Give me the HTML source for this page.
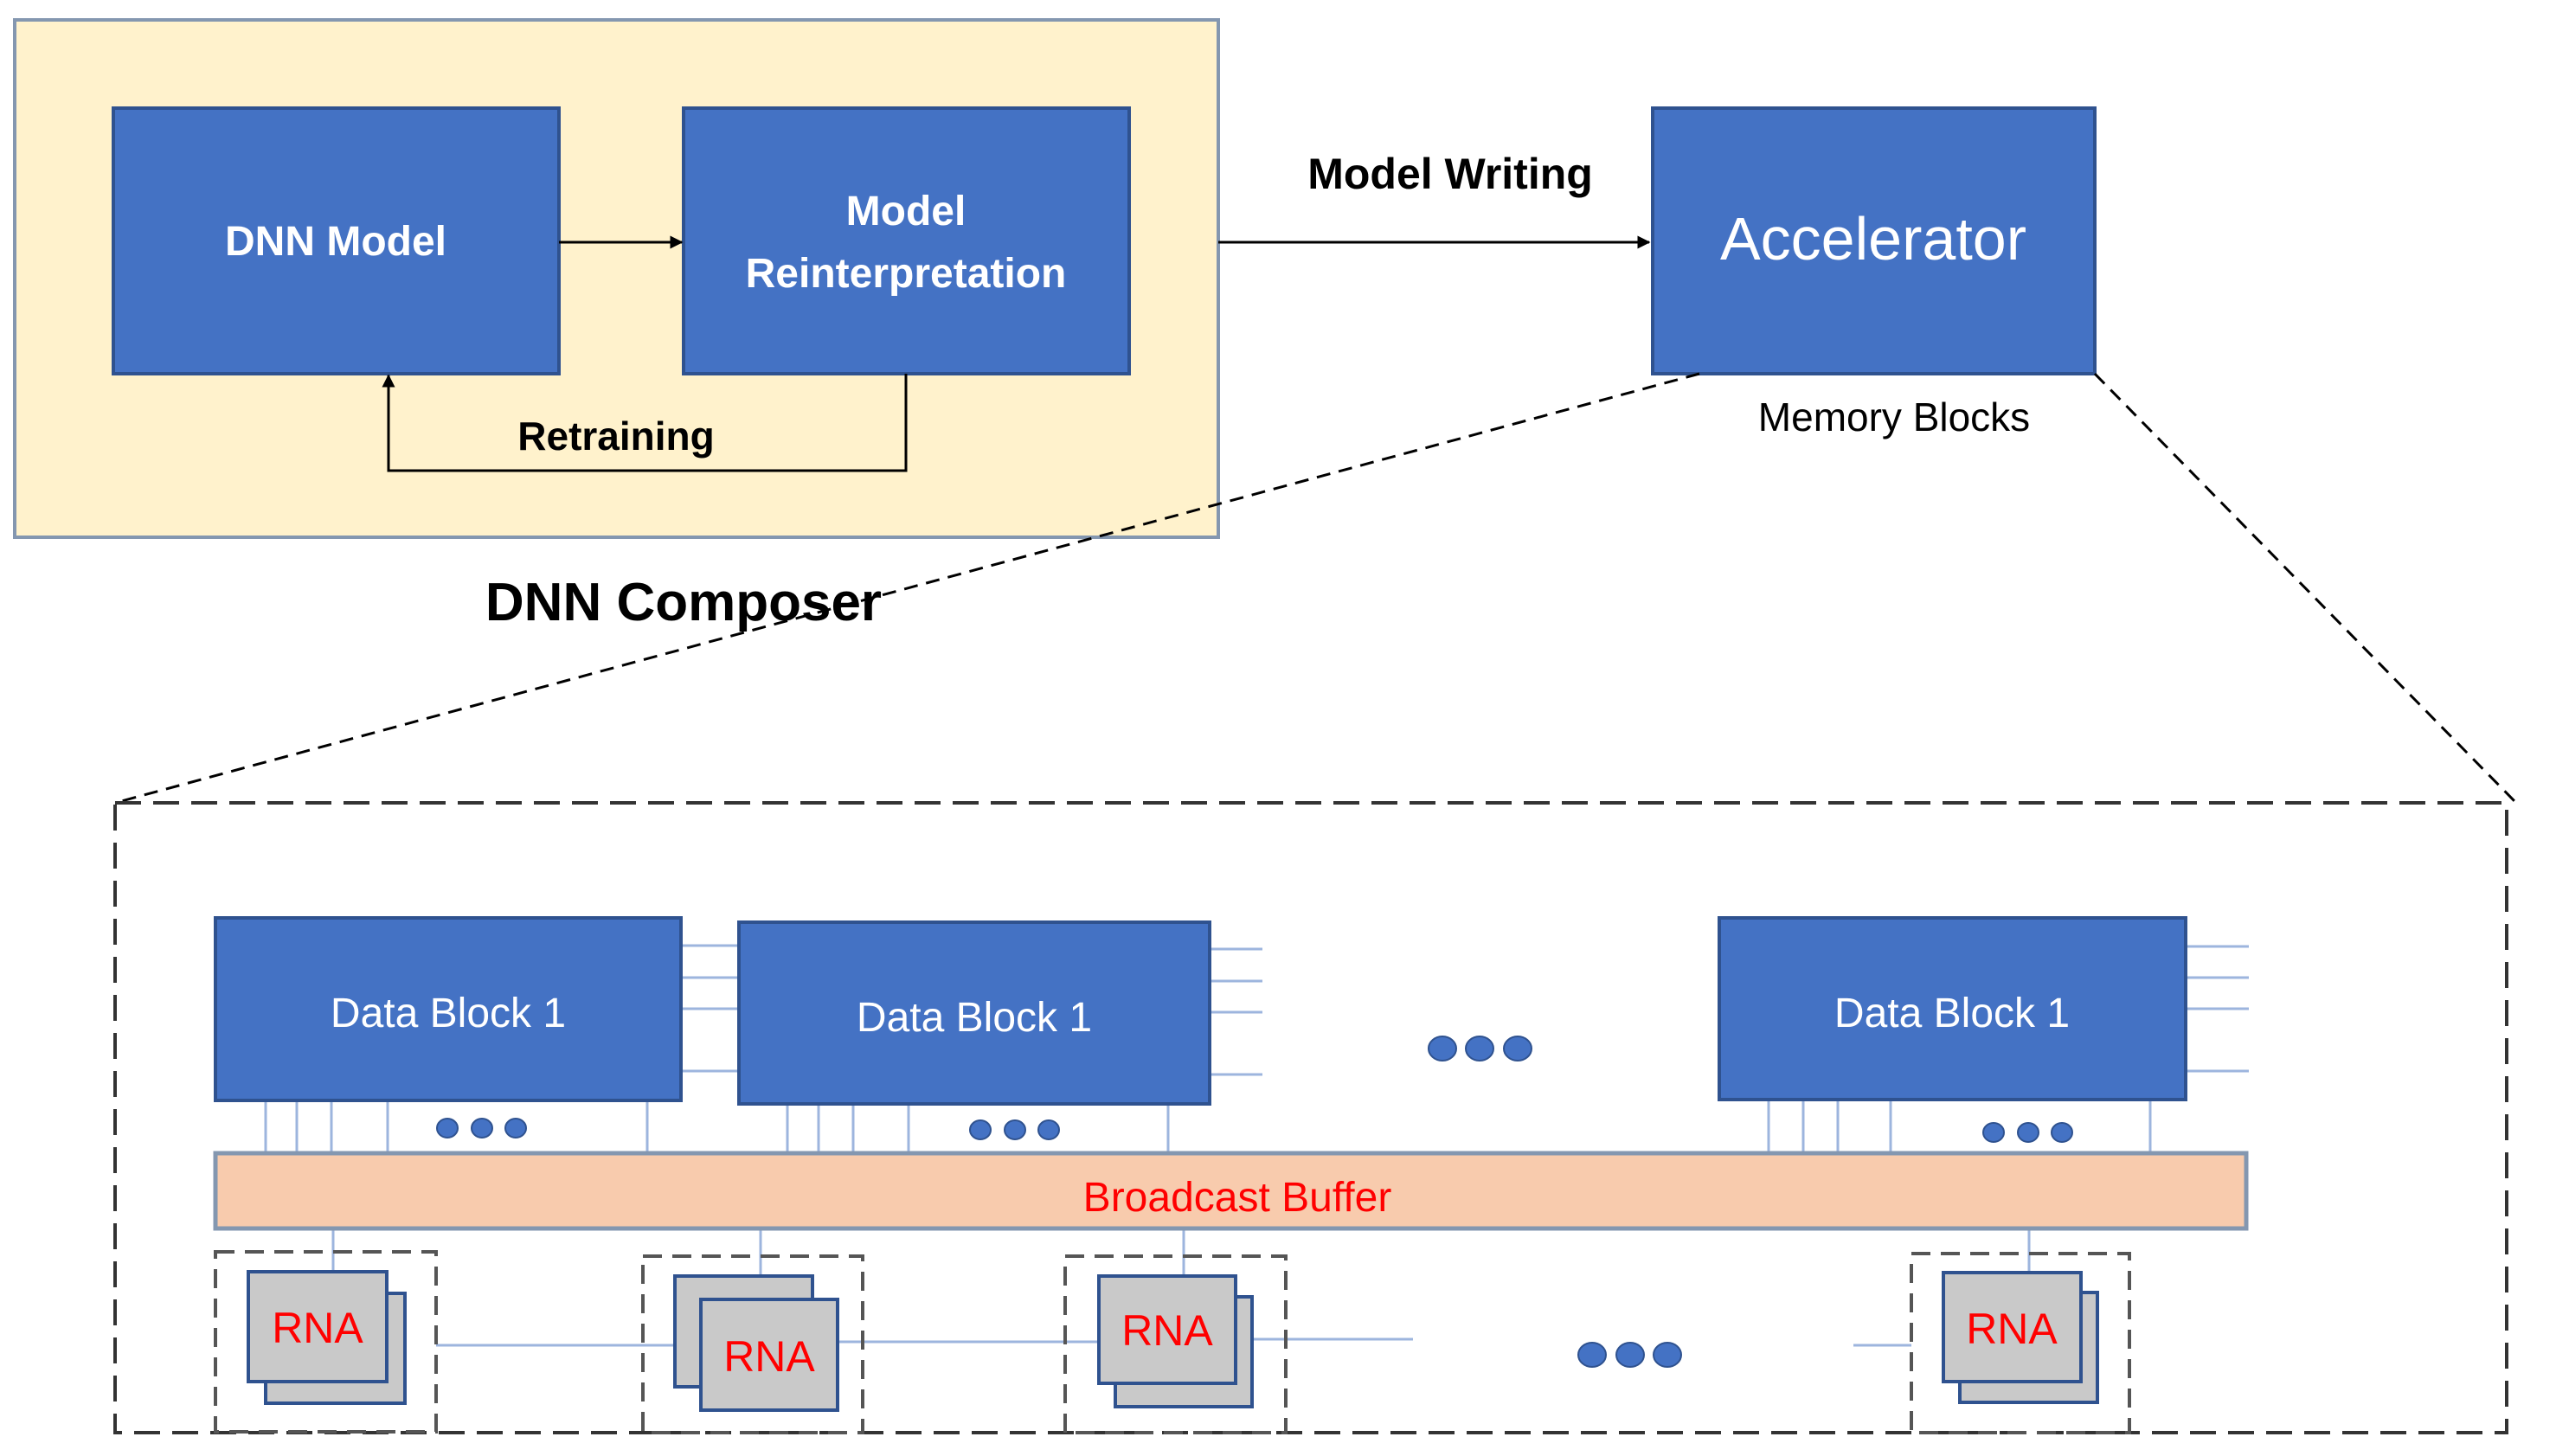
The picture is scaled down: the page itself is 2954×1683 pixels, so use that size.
<!DOCTYPE html>
<html><head><meta charset="utf-8"><style>
html,body{margin:0;padding:0;background:#fff;}
svg{display:block;}
text{font-family:"Liberation Sans",sans-serif;}
</style></head><body>
<svg width="2954" height="1683" viewBox="0 0 2954 1683" xmlns="http://www.w3.org/2000/svg">
<defs>
<marker id="ah" viewBox="0 0 10 10" refX="9" refY="5" markerWidth="5" markerHeight="5" orient="auto"><path d="M0,0 L10,5 L0,10 z" fill="#000"/></marker>
</defs>
<!-- composer -->
<rect x="17" y="23" width="1391" height="598" fill="#fff2cc" stroke="#8497b0" stroke-width="4"/>
<rect x="131" y="125" width="515" height="307" fill="#4472c4" stroke="#2f528f" stroke-width="4"/>
<rect x="790" y="125" width="515" height="307" fill="#4472c4" stroke="#2f528f" stroke-width="4"/>
<text x="388" y="295" fill="#fff" font-size="48" font-weight="bold" text-anchor="middle">DNN Model</text>
<text x="1047" y="260" fill="#fff" font-size="48" font-weight="bold" text-anchor="middle">Model</text>
<text x="1047" y="332" fill="#fff" font-size="48" font-weight="bold" text-anchor="middle">Reinterpretation</text>
<line x1="646" y1="280" x2="788" y2="280" stroke="#000" stroke-width="3" marker-end="url(#ah)"/>
<polyline points="1047,432 1047,544 449,544 449,434" fill="none" stroke="#000" stroke-width="3" marker-end="url(#ah)"/>
<text x="712" y="520" fill="#000" font-size="46" font-weight="bold" text-anchor="middle">Retraining</text>
<text x="790" y="717" fill="#000" font-size="62" font-weight="bold" text-anchor="middle">DNN Composer</text>
<!-- accelerator -->
<line x1="1408" y1="280" x2="1906" y2="280" stroke="#000" stroke-width="3" marker-end="url(#ah)"/>
<text x="1676" y="218" fill="#000" font-size="50" font-weight="bold" text-anchor="middle">Model Writing</text>
<rect x="1910" y="125" width="511" height="307" fill="#4472c4" stroke="#2f528f" stroke-width="4"/>
<text x="2165" y="300" fill="#fff" font-size="70" text-anchor="middle">Accelerator</text>
<text x="2189" y="498" fill="#000" font-size="46" text-anchor="middle">Memory Blocks</text>
<line x1="1964" y1="432" x2="133" y2="928" stroke="#000" stroke-width="3" stroke-dasharray="16,10"/>
<line x1="2421" y1="432" x2="2908" y2="928" stroke="#000" stroke-width="3" stroke-dasharray="16,10"/>
<rect x="133" y="928" width="2764" height="728" fill="none" stroke="#333" stroke-width="4" stroke-dasharray="30,14"/>
<!-- data block lines -->
<g stroke="#9db5de" stroke-width="3">
<line x1="787" y1="1093" x2="854" y2="1093"/><line x1="787" y1="1130" x2="854" y2="1130"/><line x1="787" y1="1166" x2="854" y2="1166"/><line x1="787" y1="1238" x2="854" y2="1238"/>
<line x1="1398" y1="1097" x2="1459" y2="1097"/><line x1="1398" y1="1134" x2="1459" y2="1134"/><line x1="1398" y1="1170" x2="1459" y2="1170"/><line x1="1398" y1="1242" x2="1459" y2="1242"/>
<line x1="2526" y1="1094" x2="2599" y2="1094"/><line x1="2526" y1="1130" x2="2599" y2="1130"/><line x1="2526" y1="1166" x2="2599" y2="1166"/><line x1="2526" y1="1238" x2="2599" y2="1238"/>
<line x1="307" y1="1272" x2="307" y2="1333"/><line x1="343" y1="1272" x2="343" y2="1333"/><line x1="383" y1="1272" x2="383" y2="1333"/><line x1="448" y1="1272" x2="448" y2="1333"/><line x1="748" y1="1272" x2="748" y2="1333"/>
<line x1="910" y1="1276" x2="910" y2="1333"/><line x1="946" y1="1276" x2="946" y2="1333"/><line x1="986" y1="1276" x2="986" y2="1333"/><line x1="1050" y1="1276" x2="1050" y2="1333"/><line x1="1350" y1="1276" x2="1350" y2="1333"/>
<line x1="2044" y1="1271" x2="2044" y2="1333"/><line x1="2084" y1="1271" x2="2084" y2="1333"/><line x1="2124" y1="1271" x2="2124" y2="1333"/><line x1="2185" y1="1271" x2="2185" y2="1333"/><line x1="2485" y1="1271" x2="2485" y2="1333"/>
<!-- rna links -->
<line x1="385" y1="1420" x2="385" y2="1470"/><line x1="879" y1="1420" x2="879" y2="1475"/><line x1="1368" y1="1420" x2="1368" y2="1475"/><line x1="2345" y1="1420" x2="2345" y2="1471"/>
<line x1="504" y1="1555" x2="780" y2="1555"/><line x1="968" y1="1551" x2="1270" y2="1551"/><line x1="1428" y1="1548" x2="1633" y2="1548"/><line x1="2142" y1="1555" x2="2209" y2="1555"/>
</g>
<rect x="249" y="1061" width="538" height="211" fill="#4472c4" stroke="#2f528f" stroke-width="4"/>
<rect x="854" y="1066" width="544" height="210" fill="#4472c4" stroke="#2f528f" stroke-width="4"/>
<rect x="1987" y="1061" width="539" height="210" fill="#4472c4" stroke="#2f528f" stroke-width="4"/>
<text x="518" y="1187" fill="#fff" font-size="48" text-anchor="middle">Data Block 1</text>
<text x="1126" y="1192" fill="#fff" font-size="48" text-anchor="middle">Data Block 1</text>
<text x="2256" y="1187" fill="#fff" font-size="48" text-anchor="middle">Data Block 1</text>
<g fill="#4472c4" stroke="#2f528f" stroke-width="2">
<ellipse cx="517" cy="1304" rx="12" ry="11"/><ellipse cx="557" cy="1304" rx="12" ry="11"/><ellipse cx="596" cy="1304" rx="12" ry="11"/>
<ellipse cx="1133" cy="1306" rx="12" ry="11"/><ellipse cx="1173" cy="1306" rx="12" ry="11"/><ellipse cx="1212" cy="1306" rx="12" ry="11"/>
<ellipse cx="2304" cy="1309" rx="12" ry="11"/><ellipse cx="2344" cy="1309" rx="12" ry="11"/><ellipse cx="2383" cy="1309" rx="12" ry="11"/>
<ellipse cx="1667" cy="1212" rx="16" ry="14"/><ellipse cx="1710" cy="1212" rx="16" ry="14"/><ellipse cx="1754" cy="1212" rx="16" ry="14"/>
<ellipse cx="1840" cy="1566" rx="16" ry="14"/><ellipse cx="1884" cy="1566" rx="16" ry="14"/><ellipse cx="1927" cy="1566" rx="16" ry="14"/>
</g>
<!-- buffer -->
<rect x="249" y="1333" width="2347" height="87" fill="#f8cbad" stroke="#8497b0" stroke-width="5"/>
<text x="1430" y="1400" fill="#ff0000" font-size="48" text-anchor="middle">Broadcast Buffer</text>
<!-- RNA groups -->
<g fill="none" stroke="#555" stroke-width="4" stroke-dasharray="22,12">
<rect x="249" y="1447" width="255" height="208"/>
<rect x="743" y="1452" width="254" height="204"/>
<rect x="1231" y="1452" width="255" height="204"/>
<rect x="2209" y="1449" width="252" height="207"/>
</g>
<g fill="#c9c9c9" stroke="#2f528f" stroke-width="4">
<rect x="307" y="1495" width="161" height="127"/><rect x="287" y="1470" width="160" height="127"/>
<rect x="780" y="1475" width="159" height="128"/><rect x="810" y="1502" width="158" height="128"/>
<rect x="1289" y="1499" width="158" height="127"/><rect x="1270" y="1475" width="158" height="124"/>
<rect x="2265" y="1494" width="159" height="127"/><rect x="2246" y="1471" width="159" height="126"/>
</g>
<g fill="#ff0000" font-size="50" text-anchor="middle">
<text x="367" y="1552">RNA</text>
<text x="889" y="1585">RNA</text>
<text x="1349" y="1555">RNA</text>
<text x="2325" y="1553">RNA</text>
</g>
</svg>
</body></html>
